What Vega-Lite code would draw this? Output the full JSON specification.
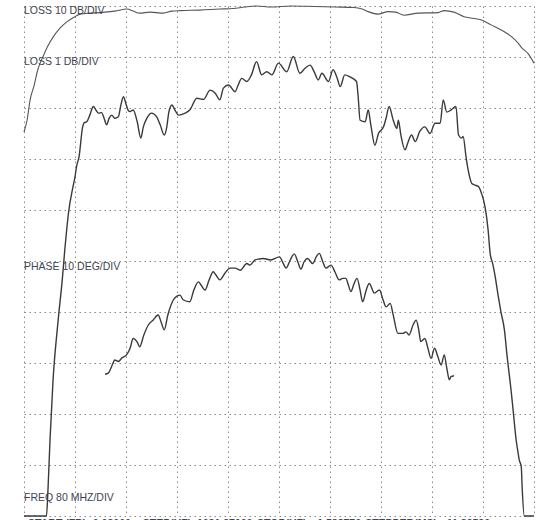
{
  "$schema": "https://vega.github.io/schema/vega-lite/v6.json",
  "autosize": "none",
  "width": 510,
  "height": 510,
  "padding": {"left": 24, "top": 6, "right": 8, "bottom": 4},
  "background": "white",
  "config": {
    "view": {"stroke": null},
    "font": "Liberation Sans",
    "axis": {
      "grid": true,
      "gridDash": [1.5, 3.5],
      "gridColor": "#8a8a8a",
      "gridWidth": 1,
      "gridOpacity": 1,
      "labels": false,
      "ticks": false,
      "domain": false,
      "title": null,
      "values": [0, 1, 2, 3, 4, 5, 6, 7, 8, 9, 10]
    }
  },
  "datasets": {
    "loss10": [
      {"x": 0, "y": 7.53}, {"x": 0.06, "y": 7.76}, {"x": 0.12, "y": 8.16}, {"x": 0.2, "y": 8.45},
      {"x": 0.27, "y": 8.75}, {"x": 0.37, "y": 9.0}, {"x": 0.47, "y": 9.22}, {"x": 0.57, "y": 9.39},
      {"x": 0.71, "y": 9.57}, {"x": 0.84, "y": 9.69}, {"x": 0.98, "y": 9.78}, {"x": 1.1, "y": 9.84},
      {"x": 1.29, "y": 9.86}, {"x": 1.49, "y": 9.87}, {"x": 1.78, "y": 9.9}, {"x": 2.02, "y": 9.94},
      {"x": 2.14, "y": 9.9}, {"x": 2.27, "y": 9.86}, {"x": 2.47, "y": 9.88}, {"x": 2.73, "y": 9.86},
      {"x": 2.9, "y": 9.9}, {"x": 3.06, "y": 9.91}, {"x": 3.45, "y": 9.92}, {"x": 3.84, "y": 9.94},
      {"x": 4.1, "y": 9.95}, {"x": 4.33, "y": 9.98}, {"x": 4.57, "y": 10.0}, {"x": 4.84, "y": 9.98},
      {"x": 5.24, "y": 10.0}, {"x": 5.69, "y": 9.99}, {"x": 6.1, "y": 9.98}, {"x": 6.47, "y": 9.97},
      {"x": 6.63, "y": 9.94}, {"x": 6.75, "y": 9.89}, {"x": 6.94, "y": 9.84}, {"x": 7.14, "y": 9.89},
      {"x": 7.29, "y": 9.88}, {"x": 7.45, "y": 9.82}, {"x": 7.73, "y": 9.86}, {"x": 8.12, "y": 9.87},
      {"x": 8.24, "y": 9.91}, {"x": 8.43, "y": 9.88}, {"x": 8.63, "y": 9.79}, {"x": 8.96, "y": 9.73},
      {"x": 9.16, "y": 9.63}, {"x": 9.41, "y": 9.5}, {"x": 9.57, "y": 9.39}, {"x": 9.69, "y": 9.27},
      {"x": 9.76, "y": 9.18}, {"x": 9.88, "y": 9.07}, {"x": 10.0, "y": 8.88}
    ],
    "loss1": [
      {"x": 0, "y": 0}, {"x": 0.44, "y": 0}, {"x": 0.47, "y": 0.51}, {"x": 0.51, "y": 1.49},
      {"x": 0.57, "y": 2.67}, {"x": 0.67, "y": 3.84}, {"x": 0.75, "y": 4.63}, {"x": 0.8, "y": 5.22},
      {"x": 0.88, "y": 6.0}, {"x": 0.955, "y": 6.43}, {"x": 1.0, "y": 6.65}, {"x": 1.03, "y": 6.85},
      {"x": 1.08, "y": 7.05}, {"x": 1.15, "y": 7.63}, {"x": 1.18, "y": 7.71}, {"x": 1.23, "y": 7.73},
      {"x": 1.29, "y": 7.86}, {"x": 1.36, "y": 8.03}, {"x": 1.41, "y": 7.96}, {"x": 1.46, "y": 7.9},
      {"x": 1.52, "y": 7.91}, {"x": 1.57, "y": 7.8}, {"x": 1.62, "y": 7.67}, {"x": 1.67, "y": 7.8},
      {"x": 1.72, "y": 7.86}, {"x": 1.78, "y": 7.8}, {"x": 1.85, "y": 7.83}, {"x": 1.9, "y": 8.06},
      {"x": 1.95, "y": 8.22}, {"x": 2.0, "y": 8.08}, {"x": 2.04, "y": 7.96}, {"x": 2.08, "y": 7.93},
      {"x": 2.14, "y": 7.96}, {"x": 2.22, "y": 7.73}, {"x": 2.29, "y": 7.41}, {"x": 2.34, "y": 7.63},
      {"x": 2.41, "y": 7.8}, {"x": 2.5, "y": 7.9}, {"x": 2.6, "y": 7.83}, {"x": 2.67, "y": 7.67},
      {"x": 2.75, "y": 7.47}, {"x": 2.8, "y": 7.63}, {"x": 2.84, "y": 7.92}, {"x": 2.9, "y": 8.06},
      {"x": 2.96, "y": 7.96}, {"x": 3.03, "y": 7.86}, {"x": 3.16, "y": 7.9}, {"x": 3.25, "y": 7.96},
      {"x": 3.39, "y": 8.19}, {"x": 3.52, "y": 8.17}, {"x": 3.65, "y": 8.35}, {"x": 3.75, "y": 8.29},
      {"x": 3.84, "y": 8.16}, {"x": 3.91, "y": 8.39}, {"x": 4.01, "y": 8.45}, {"x": 4.14, "y": 8.32},
      {"x": 4.2, "y": 8.45}, {"x": 4.27, "y": 8.58}, {"x": 4.37, "y": 8.52}, {"x": 4.46, "y": 8.65},
      {"x": 4.56, "y": 8.91}, {"x": 4.66, "y": 8.65}, {"x": 4.76, "y": 8.71}, {"x": 4.86, "y": 8.65},
      {"x": 4.99, "y": 8.88}, {"x": 5.15, "y": 8.71}, {"x": 5.28, "y": 9.01}, {"x": 5.41, "y": 8.68},
      {"x": 5.51, "y": 8.78}, {"x": 5.61, "y": 8.84}, {"x": 5.69, "y": 8.71}, {"x": 5.77, "y": 8.55},
      {"x": 5.84, "y": 8.68}, {"x": 5.97, "y": 8.52}, {"x": 6.06, "y": 8.75}, {"x": 6.14, "y": 8.59},
      {"x": 6.2, "y": 8.42}, {"x": 6.29, "y": 8.65}, {"x": 6.39, "y": 8.61}, {"x": 6.52, "y": 8.52},
      {"x": 6.55, "y": 8.25}, {"x": 6.59, "y": 7.76}, {"x": 6.69, "y": 7.73}, {"x": 6.75, "y": 7.96},
      {"x": 6.8, "y": 7.67}, {"x": 6.88, "y": 7.27}, {"x": 6.95, "y": 7.5}, {"x": 7.05, "y": 7.63},
      {"x": 7.1, "y": 7.8}, {"x": 7.16, "y": 8.03}, {"x": 7.24, "y": 7.76}, {"x": 7.31, "y": 7.6},
      {"x": 7.34, "y": 7.76}, {"x": 7.39, "y": 7.47}, {"x": 7.47, "y": 7.18}, {"x": 7.53, "y": 7.33},
      {"x": 7.6, "y": 7.47}, {"x": 7.67, "y": 7.34}, {"x": 7.76, "y": 7.54}, {"x": 7.86, "y": 7.63},
      {"x": 7.96, "y": 7.5}, {"x": 8.06, "y": 7.7}, {"x": 8.16, "y": 7.7}, {"x": 8.22, "y": 8.16},
      {"x": 8.29, "y": 7.92}, {"x": 8.37, "y": 7.96}, {"x": 8.47, "y": 8.03}, {"x": 8.52, "y": 7.47},
      {"x": 8.58, "y": 7.41}, {"x": 8.61, "y": 7.44}, {"x": 8.67, "y": 7.02}, {"x": 8.71, "y": 6.78},
      {"x": 8.78, "y": 6.52}, {"x": 8.84, "y": 6.49}, {"x": 8.91, "y": 6.46}, {"x": 8.97, "y": 6.33},
      {"x": 9.04, "y": 6.06}, {"x": 9.1, "y": 5.61}, {"x": 9.14, "y": 5.15}, {"x": 9.19, "y": 4.95},
      {"x": 9.24, "y": 4.69}, {"x": 9.3, "y": 4.3}, {"x": 9.35, "y": 4.01}, {"x": 9.42, "y": 3.65},
      {"x": 9.47, "y": 3.16}, {"x": 9.55, "y": 2.47}, {"x": 9.59, "y": 2.08}, {"x": 9.65, "y": 1.49},
      {"x": 9.68, "y": 1.29}, {"x": 9.71, "y": 1.1}, {"x": 9.75, "y": 0.97}, {"x": 9.77, "y": 0.51},
      {"x": 9.81, "y": 0}, {"x": 10, "y": 0}
    ],
    "phase": [
      {"x": 1.59, "y": 2.78}, {"x": 1.65, "y": 2.8}, {"x": 1.73, "y": 2.96}, {"x": 1.78, "y": 3.06},
      {"x": 1.85, "y": 3.03}, {"x": 1.92, "y": 3.1}, {"x": 2.01, "y": 3.16}, {"x": 2.08, "y": 3.29},
      {"x": 2.14, "y": 3.48}, {"x": 2.22, "y": 3.41}, {"x": 2.27, "y": 3.32}, {"x": 2.35, "y": 3.55},
      {"x": 2.44, "y": 3.75}, {"x": 2.53, "y": 3.84}, {"x": 2.63, "y": 3.94}, {"x": 2.69, "y": 3.8},
      {"x": 2.75, "y": 3.65}, {"x": 2.82, "y": 3.94}, {"x": 2.93, "y": 4.24}, {"x": 3.0, "y": 4.31},
      {"x": 3.06, "y": 4.33}, {"x": 3.12, "y": 4.24}, {"x": 3.25, "y": 4.2}, {"x": 3.33, "y": 4.43},
      {"x": 3.42, "y": 4.59}, {"x": 3.47, "y": 4.53}, {"x": 3.55, "y": 4.43}, {"x": 3.63, "y": 4.63},
      {"x": 3.71, "y": 4.79}, {"x": 3.76, "y": 4.73}, {"x": 3.84, "y": 4.63}, {"x": 3.94, "y": 4.76},
      {"x": 4.04, "y": 4.86}, {"x": 4.14, "y": 4.86}, {"x": 4.24, "y": 4.82}, {"x": 4.37, "y": 4.95},
      {"x": 4.43, "y": 4.92}, {"x": 4.53, "y": 5.02}, {"x": 4.61, "y": 5.04}, {"x": 4.69, "y": 5.05},
      {"x": 4.84, "y": 5.02}, {"x": 5.01, "y": 5.08}, {"x": 5.08, "y": 4.96}, {"x": 5.14, "y": 4.86},
      {"x": 5.22, "y": 5.02}, {"x": 5.3, "y": 5.14}, {"x": 5.37, "y": 4.98}, {"x": 5.43, "y": 4.84},
      {"x": 5.49, "y": 4.98}, {"x": 5.56, "y": 5.05}, {"x": 5.66, "y": 4.95}, {"x": 5.73, "y": 5.08},
      {"x": 5.79, "y": 5.15}, {"x": 5.86, "y": 4.98}, {"x": 5.92, "y": 4.86}, {"x": 6.02, "y": 4.92},
      {"x": 6.1, "y": 4.78}, {"x": 6.18, "y": 4.63}, {"x": 6.25, "y": 4.66}, {"x": 6.31, "y": 4.66},
      {"x": 6.36, "y": 4.53}, {"x": 6.41, "y": 4.4}, {"x": 6.47, "y": 4.55}, {"x": 6.53, "y": 4.66},
      {"x": 6.59, "y": 4.43}, {"x": 6.64, "y": 4.2}, {"x": 6.71, "y": 4.43}, {"x": 6.77, "y": 4.56},
      {"x": 6.87, "y": 4.37}, {"x": 6.97, "y": 4.43}, {"x": 7.04, "y": 4.24}, {"x": 7.1, "y": 4.1},
      {"x": 7.18, "y": 4.17}, {"x": 7.24, "y": 3.94}, {"x": 7.33, "y": 3.58}, {"x": 7.43, "y": 3.58},
      {"x": 7.49, "y": 3.61}, {"x": 7.55, "y": 3.55}, {"x": 7.63, "y": 3.75}, {"x": 7.69, "y": 3.84},
      {"x": 7.74, "y": 3.65}, {"x": 7.78, "y": 3.42}, {"x": 7.86, "y": 3.48}, {"x": 7.92, "y": 3.29},
      {"x": 7.98, "y": 3.09}, {"x": 8.05, "y": 3.29}, {"x": 8.11, "y": 3.14}, {"x": 8.18, "y": 2.96},
      {"x": 8.24, "y": 3.16}, {"x": 8.29, "y": 2.9}, {"x": 8.34, "y": 2.67}, {"x": 8.37, "y": 2.73},
      {"x": 8.43, "y": 2.75}
    ],
    "labels": [
      {"x": 0, "y": 9.9, "label": "LOSS 10 DB/DIV"},
      {"x": 0, "y": 8.9, "label": "LOSS 1 DB/DIV"},
      {"x": 0, "y": 4.89, "label": "PHASE 10 DEG/DIV"},
      {"x": 0, "y": 0.35, "label": "FREQ 80 MHZ/DIV"}
    ],
    "footer": [
      {"x": 0.08, "y": -0.16, "label": "START (FR)"},
      {"x": 1.35, "y": -0.16, "label": "0.63000"},
      {"x": 2.33, "y": -0.16, "label": "STEP(HZ)"},
      {"x": 3.39, "y": -0.16, "label": "1081.37000"},
      {"x": 4.57, "y": -0.16, "label": "STOP(HZ)"},
      {"x": 5.75, "y": -0.16, "label": "1.538776"},
      {"x": 6.69, "y": -0.16, "label": "STEPPER(MS)"},
      {"x": 8.29, "y": -0.16, "label": "11.39530"}
    ]
  },
  "encoding": {
    "x": {"field": "x", "type": "quantitative", "scale": {"domain": [0, 10], "nice": false, "zero": false}},
    "y": {"field": "y", "type": "quantitative", "scale": {"domain": [0, 10], "nice": false, "zero": false}}
  },
  "layer": [
    {
      "data": {"name": "loss10"},
      "mark": {"type": "line", "color": "#555555", "strokeWidth": 1.1, "interpolate": "monotone", "clip": false}
    },
    {
      "data": {"name": "loss1"},
      "mark": {"type": "line", "color": "#3a3a3a", "strokeWidth": 1.4, "interpolate": "monotone", "clip": false}
    },
    {
      "data": {"name": "phase"},
      "mark": {"type": "line", "color": "#3a3a3a", "strokeWidth": 1.4, "interpolate": "monotone", "clip": false}
    },
    {
      "data": {"name": "labels"},
      "mark": {"type": "text", "align": "left", "baseline": "middle", "fontSize": 10.5, "color": "#3d4452"},
      "encoding": {"text": {"field": "label"}}
    },
    {
      "data": {"name": "footer"},
      "mark": {"type": "text", "align": "left", "baseline": "middle", "fontSize": 10.5, "fontWeight": "bold", "color": "#3d4452"},
      "encoding": {"text": {"field": "label"}}
    }
  ]
}
